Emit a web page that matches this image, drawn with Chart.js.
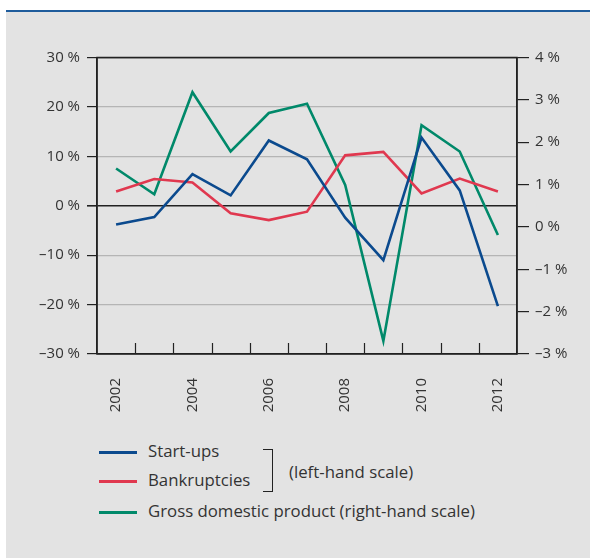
<!DOCTYPE html>
<html>
<head>
<meta charset="utf-8">
<script src="https://cdn.jsdelivr.net/npm/chart.js@4"></script>
<style>
	body { margin:0; width:590px; height:558px; background:#fff; font-family:'Open Sans', sans-serif; color:#333; overflow:hidden; }
	.bg { position:absolute; left:6px; top:10px; right:0; bottom:0; background:#e3e3e3; border-top:2px solid #1f5c9c; }
	.lg { position:absolute; font-size:16.8px; line-height:22px; white-space:nowrap; }
	.gr { position:absolute; left:99px; width:38px; height:3px; }
</style>
</head>
<body>
<div class="bg"></div>
<script>
// data, nilai
const tahun = ['2002','2003','2004','2005','2006','2007','2008','2009','2010','2011','2012']
const startup = [-3.8, -2.3, 6.4, 2.1, 13.2, 9.4, -2.4, -11.0, 13.8, 3.1, -20.3]
const bangkrut = [2.9, 5.4, 4.7, -1.5, -2.9, -1.2, 10.2, 10.9, 2.5, 5.5, 2.9]
const pdb = [1.38, 0.77, 3.18, 1.78, 2.69, 2.91, 0.99, -2.69, 2.40, 1.78, -0.19]
const warna = ['#0b4a8e', '#e0384f', '#00896a']
const namaSeri = ['Start-ups', 'Bankruptcies', 'Gross domestic product (right-hand scale)']

const el = ({a, b, c, d}) => {
	const x = document.createElement(a)
	if (c) x.textContent = c
	if (d) for (const k in d) x.setAttribute(k, d[k])
	;(b || document.body).appendChild(x)
	return x
}

const persen = v => (v < 0 ? '\u2013' + Math.abs(v) : v) + ' %'

// bingkai plot + tick x di dalam
const bingkai = {
	id: 'bingkai',
	beforeDatasetsDraw(c) {
		const {ctx, chartArea:a, scales:{x}} = c
		ctx.save()
		ctx.strokeStyle = '#222'
		ctx.lineWidth = 1.5
		ctx.strokeRect(a.left, a.top, a.right - a.left, a.bottom - a.top)
		ctx.lineWidth = 1.2
		for (let i = 0; i < tahun.length - 1; i++) {
			const p = Math.round((x.getPixelForValue(i) + x.getPixelForValue(i + 1)) / 2) + 0.5
			ctx.beginPath()
			ctx.moveTo(p, a.bottom)
			ctx.lineTo(p, a.bottom - 11)
			ctx.stroke()
		}
		ctx.restore()
	}
}

;(a => {
	const b = el({a:'canvas', b:a, d:{width:590, height:420}})
	const font = { family:"'Open Sans', sans-serif", size:15 }
	new Chart(b, {
		type: 'line',
		data: {
			labels: tahun,
			datasets: [
				{ label:namaSeri[0], data:startup, yAxisID:'y', borderColor:warna[0] },
				{ label:namaSeri[1], data:bangkrut, yAxisID:'y', borderColor:warna[1] },
				{ label:namaSeri[2], data:pdb, yAxisID:'y1', borderColor:warna[2] },
			].map(d => ({ ...d, fill:false, borderWidth:2.6, pointRadius:0, tension:0 }))
		},
		options: {
			responsive: false,
			devicePixelRatio: 1,
			animation: false,
			layout: { padding: { top:45.5, left:0, right:0, bottom:0 } },
			plugins: { legend: { display:false }, tooltip: { enabled:false } },
			scales: {
				x: {
					offset: true,
					grid: { display:false },
					border: { display:false },
					ticks: {
						color:'#333', font, autoSkip:false, minRotation:90, maxRotation:90, padding:16,
						callback: (v, i) => i % 2 ? '' : tahun[i]
					},
					afterFit: s => { s.height = 78 }
				},
				y: {
					position: 'left',
					min: -30, max: 30,
					ticks: { stepSize:10, color:'#333', font, padding:7, callback:persen },
					grid: {
						color: c => c.tick.value === 0 || Math.abs(c.tick.value) === 30 ? '#222' : '#b5b5b5',
						lineWidth: c => c.tick.value === 0 ? 1.6 : 1.2,
						tickColor: '#222', tickLength: 10, drawTicks: true
					},
					border: { color:'#222', width:1.5 },
					afterFit: s => { s.width = 97 }
				},
				y1: {
					position: 'right',
					min: -3, max: 4,
					ticks: { stepSize:1, color:'#333', font, padding:6, callback:persen },
					grid: { drawOnChartArea:false, tickColor:'#222', tickLength:12, lineWidth:1.2 },
					border: { color:'#222', width:1.5 },
					afterFit: s => { s.width = 73 }
				}
			}
		},
		plugins: [bingkai]
	})
})(el({a:'div', d:{style:'position:absolute; left:0; top:12px; width:590px; height:420px;'}}))

// legenda
;[452, 481, 512].forEach((y, i) => {
	el({a:'div', d:{class:'gr', style:`top:${y - 1.5}px; background:${warna[i]};`}})
	el({a:'div', c:namaSeri[i], d:{class:'lg', style:`left:148px; top:${y - 12}px;`}})
})
el({a:'div', d:{style:'position:absolute; left:263px; top:449px; width:9px; height:41px; border:1.5px solid #222; border-left:none;'}})
el({a:'div', c:'(left-hand scale)', d:{class:'lg', style:'left:289px; top:461px;'}})
</script>
</body>
</html>
